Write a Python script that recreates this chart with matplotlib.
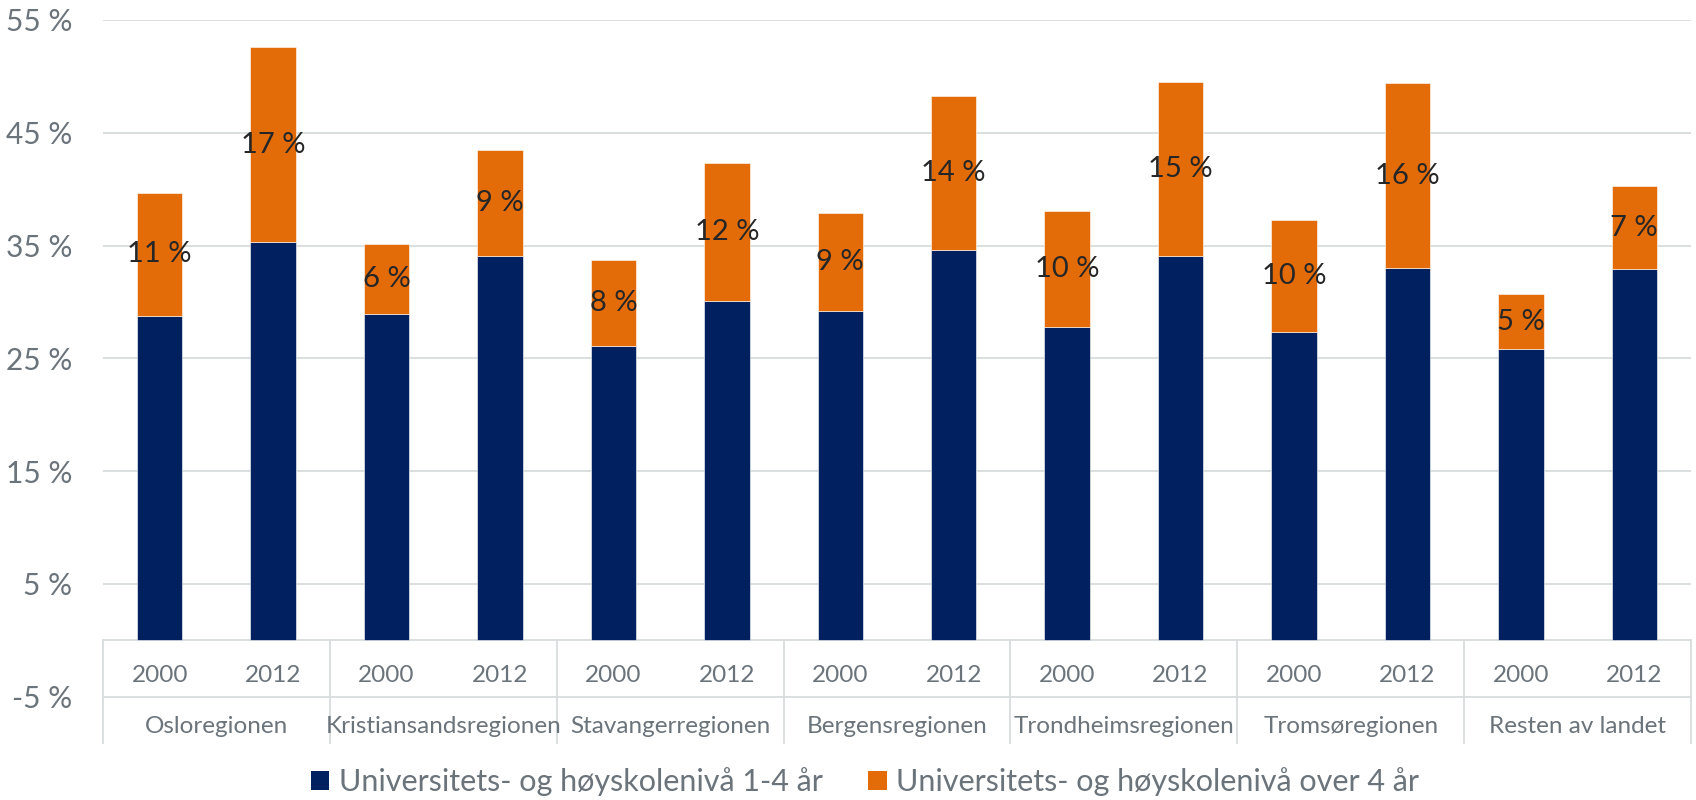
import matplotlib

matplotlib.use("Agg")
import matplotlib.pyplot as plt  # noqa: E402
from matplotlib.patches import Patch  # noqa: E402
import numpy as np  # noqa: E402

regions = ["Osloregionen", "Kristiansandsregionen", "Stavangerregionen",
           "Bergensregionen", "Trondheimsregionen", "Tromsøregionen",
           "Resten av landet"]
years = ["2000", "2012"]

# share with 1-4 years, then the extra share with over 4 years (per cent)
level_1_4 = [28.8, 35.3, 28.9, 34.1, 26.1, 30.1, 29.2, 34.6,
             27.8, 34.1, 27.3, 33.0, 25.8, 32.9]
level_over4 = [10.9, 17.3, 6.2, 9.4, 7.6, 12.2, 8.7, 13.7,
               10.3, 15.4, 10.0, 16.4, 4.9, 7.4]

series_names = ["Universitets- og høyskolenivå 1-4 år",
                "Universitets- og høyskolenivå over 4 år"]
y_ticks = [-5, 5, 15, 25, 35, 45, 55]

NAVY = "#00205F"
ORANGE = "#E36C09"
GRID = "#D9DCDD"
GREY_TXT = "#6B737B"

plt.rcParams["font.family"] = ["Lato", "DejaVu Sans"]

fig = plt.figure(figsize=(16.96, 8), dpi=100)
ax = fig.add_axes([103 / 1696, 1 - 743 / 800, (1691 - 103) / 1696, (743 - 20) / 800])

x = np.arange(len(level_1_4))
low = np.array(level_1_4)
up = np.array(level_over4)
ax.bar(x, low, width=0.4, color=NAVY, edgecolor="#FFFFFF", linewidth=0.4, zorder=2)
ax.bar(x, up, width=0.4, bottom=low, color=ORANGE, edgecolor="#FFFFFF",
       linewidth=0.4, zorder=2)

for xi, b, h in zip(x, low, up):
    ax.text(xi, b + h / 2, f"{round(h)} %", ha="center", va="center",
            fontsize=21, color="#262626", zorder=3)

ymin = -9.1
ax.set_xlim(-0.5, len(x) - 0.5)
ax.set_ylim(ymin, 55)
ax.set_yticks(y_ticks)
ax.set_yticklabels([f"{t} %" for t in y_ticks])
ax.tick_params(axis="y", length=0, pad=22, labelsize=21.5, labelcolor=GREY_TXT)
ax.set_xticks([])
for s in ax.spines.values():
    s.set_visible(False)
ax.set_axisbelow(True)
ax.grid(axis="y", color=GRID, linewidth=1.3)
ax.axhline(0, color=GRID, linewidth=1.3, zorder=1)

# category table below the zero line
for k in range(len(regions) + 1):
    ax.plot([2 * k - 0.5, 2 * k - 0.5], [0, ymin], color=GRID, linewidth=1.3,
            clip_on=False, zorder=1)
for xi in x:
    ax.text(xi, -3.1, years[xi % 2], ha="center", va="center", fontsize=17.5,
            color=GREY_TXT)
for k, name in enumerate(regions):
    ax.text(2 * k + 0.5, -7.6, name, ha="center", va="center", fontsize=17.5,
            color=GREY_TXT)

handles = [Patch(facecolor=NAVY, label=series_names[0]),
           Patch(facecolor=ORANGE, label=series_names[1])]
leg = fig.legend(handles=handles, loc="center", bbox_to_anchor=(0.51, 1 - 782 / 800),
                 ncol=2, frameon=False, fontsize=22, handlelength=0.6,
                 handleheight=0.6, handletextpad=0.3, columnspacing=1.5)
for t in leg.get_texts():
    t.set_color(GREY_TXT)

fig.savefig("out.png", dpi=100)
plt.close(fig)
